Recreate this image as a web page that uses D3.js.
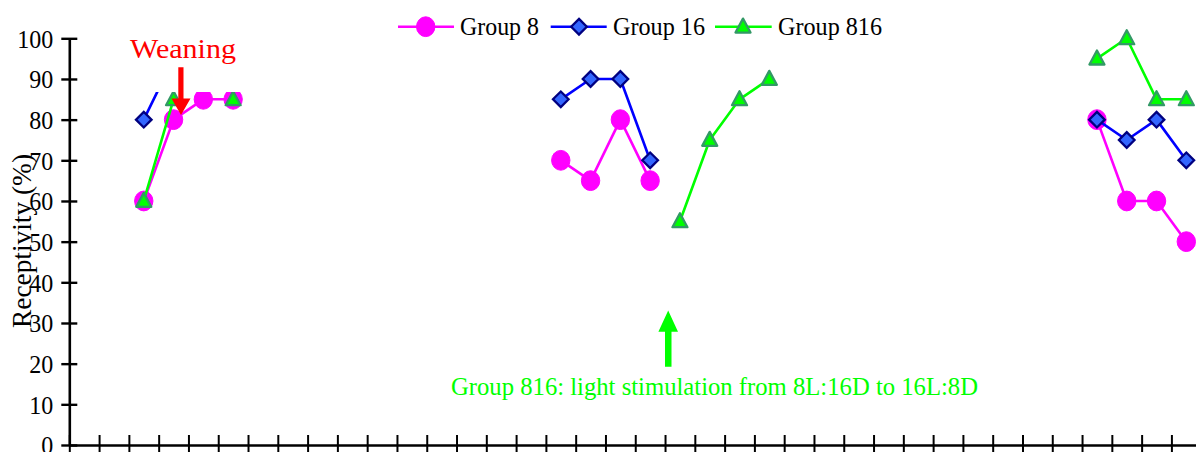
<!DOCTYPE html>
<html>
<head>
<meta charset="utf-8">
<script src="https://cdn.jsdelivr.net/npm/d3@7"></script>
<style>
  html, body { margin: 0; padding: 0; background: #fff; overflow: hidden; }
  svg { display: block; }
  text { font-family: "Liberation Serif", "Times New Roman", serif; }
</style>
</head>
<body>
<svg id="chart" width="1196" height="452"></svg>
<script>
// ---- Data ----
const categories = ["1","2","3","4","5","6","7","8","9","10","11","12","13","14","15","16","17","18","19","20",
                    "21","22","23","24","25","26","27","28","29","30","31","32","33","34","35","36","37","38"];
const group8 = [null,null,60,80,85,85,null,null,null,null,null,null,null,null,null,null,70,65,80,65,
                null,null,null,null,null,null,null,null,null,null,null,null,null,null,80,60,60,50];
const group16 = [null,null,80,95,95,95,null,null,null,null,null,null,null,null,null,null,85,90,90,70,
                 null,null,null,null,null,null,null,null,null,null,null,null,null,null,80,75,80,70];
const group816 = [null,null,60,85,null,85,null,null,null,null,null,null,null,null,null,null,null,null,null,null,
                  55,75,85,90,null,null,null,null,null,null,null,null,null,null,95,100,85,85];
const yTicks = [0,10,20,30,40,50,60,70,80,90,100];
const seriesNames = ["Group 8","Group 16","Group 816"];

// ---- Layout ----
const svg = d3.select("#chart");
const plotLeft = 69.3, plotRight = 1201.2, plotTop = 38.3, plotBottom = 445;
const x = d3.scaleLinear().domain([0, categories.length]).range([plotLeft, plotRight]);
const y = d3.scaleLinear().domain([0, 100]).range([plotBottom, plotTop]);
const cx = i => x(i + 0.5);

const styles = [
  {name: seriesNames[0], data: group8, line: "#FF00FF", marker: "circle", fill: "#FF00FF", stroke: "#FF00FF"},
  {name: seriesNames[1], data: group16, line: "#0000FF", marker: "diamond", fill: "#3366FF", stroke: "#000080"},
  {name: seriesNames[2], data: group816, line: "#00FF00", marker: "triangle", fill: "#00FF00", stroke: "#339966"}
];

function drawMarker(g, type, px, py, s) {
  if (type === "circle") {
    g.append("ellipse").attr("cx", px).attr("cy", py).attr("rx", 9.2).attr("ry", 9.9)
      .attr("fill", s.fill).attr("stroke", s.stroke).attr("stroke-width", 1);
  } else if (type === "diamond") {
    const r = 7.8;
    g.append("path").attr("d", `M${px},${py-r}L${px+r},${py}L${px},${py+r}L${px-r},${py}Z`)
      .attr("fill", s.fill).attr("stroke", s.stroke).attr("stroke-width", 2.3);
  } else {
    const h = 14, w = 15;
    g.append("path").attr("d", `M${px},${py-h*0.58}L${px+w/2},${py+h*0.42}L${px-w/2},${py+h*0.42}Z`)
      .attr("fill", s.fill).attr("stroke", s.stroke).attr("stroke-width", 2.3).attr("stroke-linejoin", "round");
  }
}

// ---- Axes ----
const xAxis = d3.axisBottom(x).tickValues(d3.range(0, categories.length + 1)).tickFormat("").tickSize(10).tickSizeOuter(0);
const gx = svg.append("g").attr("transform", `translate(0,${plotBottom})`).call(xAxis);
gx.select(".domain").attr("stroke", "#000").attr("stroke-width", 2.6);
gx.selectAll(".tick line").attr("y1", -10).attr("y2", 10).attr("stroke", "#000").attr("stroke-width", 2);

const yAxis = d3.axisLeft(y).tickValues(yTicks).tickSize(8).tickSizeOuter(0).tickPadding(9);
const gy = svg.append("g").attr("transform", `translate(${plotLeft},0)`).call(yAxis);
gy.select(".domain").attr("stroke", "#000").attr("stroke-width", 2.6);
gy.selectAll(".tick line").attr("x1", -8).attr("x2", 8).attr("stroke", "#000").attr("stroke-width", 2.4);
gy.selectAll(".tick text").attr("font-size", 26).attr("fill", "#000")
  .attr("font-family", "'Liberation Serif','Times New Roman',serif").attr("dy", "0.34em").attr("x", -16)
  .attr("textLength", d => String(d).length * 12).attr("lengthAdjust", "spacingAndGlyphs");

svg.append("text").attr("transform", "translate(31,241) rotate(-90)")
  .attr("text-anchor", "middle").attr("font-size", 27).attr("fill", "#000")
  .attr("textLength", 174).attr("lengthAdjust", "spacingAndGlyphs")
  .text("Receptivity (%)");

// ---- Series ----
styles.forEach(s => {
  const g = svg.append("g");
  const line = d3.line().defined(d => d != null).x((d, i) => cx(i)).y(d => y(d));
  g.append("path").datum(s.data).attr("d", line).attr("fill", "none")
    .attr("stroke", s.line).attr("stroke-width", 2.6).attr("stroke-linejoin", "round");
  s.data.forEach((d, i) => { if (d != null) drawMarker(g, s.marker, cx(i), y(d), s); });
});

// ---- Annotation: Weaning (white text box) ----
svg.append("rect").attr("x", 125).attr("y", 30).attr("width", 125).attr("height", 62).attr("fill", "#fff");
svg.append("text").attr("x", 130).attr("y", 57.5).attr("font-size", 28).attr("fill", "#FF0000")
  .attr("textLength", 106).attr("lengthAdjust", "spacingAndGlyphs").text("Weaning");
svg.append("path").attr("d", "M178.3,67.3L183.5,67.3L183.5,98.5L190.5,98.5L181,115L171.5,98.5L178.3,98.5Z")
  .attr("fill", "#FF0000");

// ---- Annotation: Group 816 light stimulation ----
svg.append("path").attr("d", "M665,366.7L671.5,366.7L671.5,331.7L678,331.7L668.2,310.5L658.4,331.7L665,331.7Z")
  .attr("fill", "#00FF00");
svg.append("text").attr("x", 451).attr("y", 395).attr("font-size", 26).attr("fill", "#00FF00")
  .attr("textLength", 527).attr("lengthAdjust", "spacingAndGlyphs")
  .text("Group 816: light stimulation from 8L:16D to 16L:8D");

// ---- Legend ----
const legendPos = [
  {x1: 398, x2: 454, m: 425.7, tx: 460, tw: 79},
  {x1: 550.7, x2: 606.7, m: 579, tx: 613, tw: 92},
  {x1: 715, x2: 771.7, m: 743, tx: 778, tw: 104}
];
const ly = 26.7;
styles.forEach((s, k) => {
  const p = legendPos[k];
  const g = svg.append("g");
  g.append("line").attr("x1", p.x1).attr("x2", p.x2).attr("y1", ly).attr("y2", ly)
    .attr("stroke", s.line).attr("stroke-width", 2.6);
  drawMarker(g, s.marker, p.m, ly, s);
  g.append("text").attr("x", p.tx).attr("y", 35).attr("font-size", 26).attr("fill", "#000")
    .attr("textLength", p.tw).attr("lengthAdjust", "spacingAndGlyphs").text(s.name);
});
</script>
</body>
</html>
